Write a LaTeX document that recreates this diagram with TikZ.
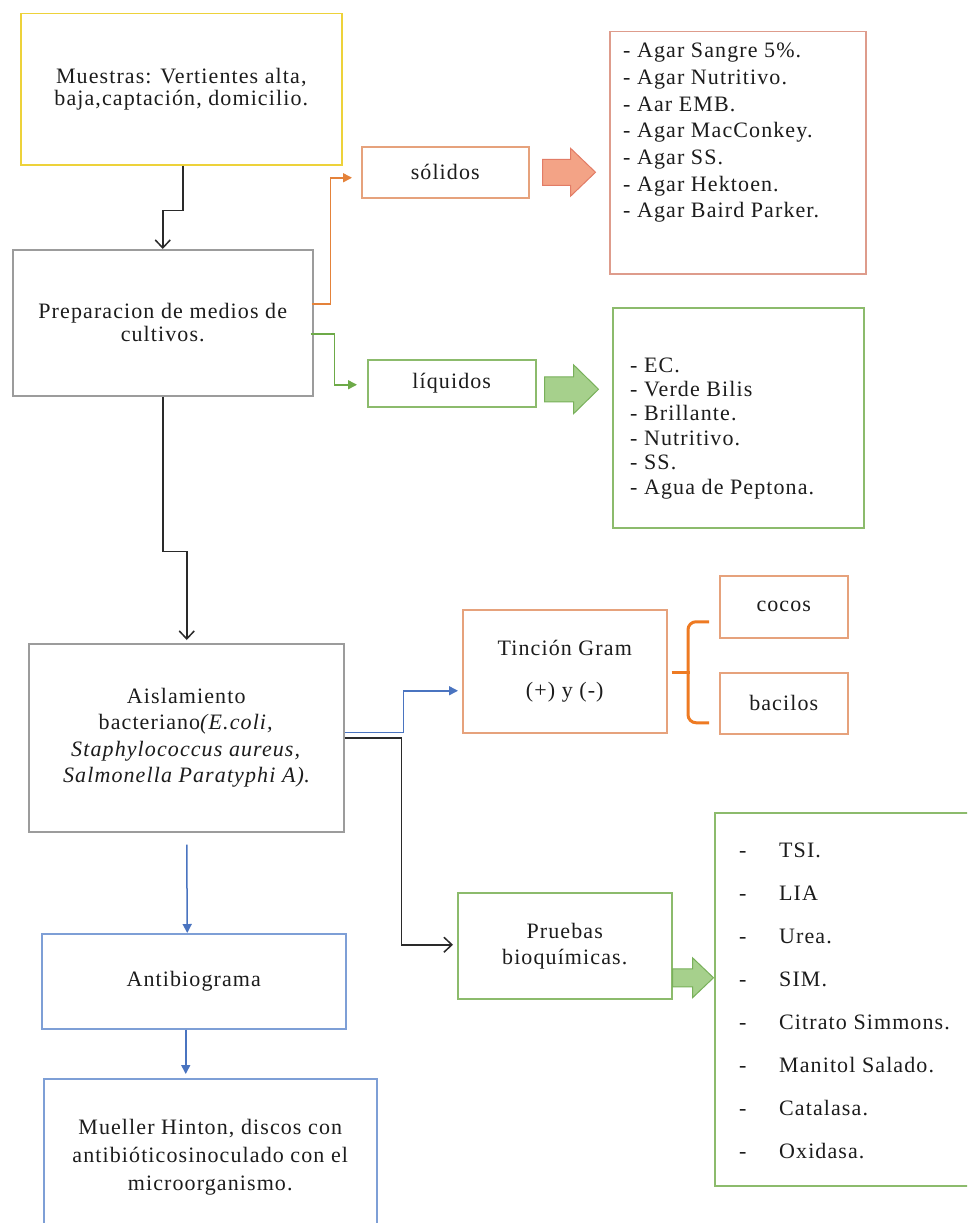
\documentclass[tikz,border=0pt]{standalone}
\usepackage{fontspec}
\setmainfont{Liberation Serif}[LetterSpace=5]
\usetikzlibrary{arrows.meta,calc}

\definecolor{ink}{HTML}{1C1C1C}
\definecolor{yelbox}{HTML}{EDD23A}
\definecolor{graybox}{HTML}{9C9C9C}
\definecolor{orline}{HTML}{E4823A}
\definecolor{orbox}{HTML}{E6A27C}
\definecolor{salbox}{HTML}{DE9C8C}
\definecolor{orfill}{HTML}{F3A386}
\definecolor{oredge}{HTML}{E27C66}
\definecolor{grbox}{HTML}{8CBB6C}
\definecolor{grline}{HTML}{6DAA48}
\definecolor{grfill}{HTML}{A6D08C}
\definecolor{gredge}{HTML}{78B05A}
\definecolor{blline}{HTML}{4A74C0}
\definecolor{blbox}{HTML}{7E9FD6}
\definecolor{bracecol}{HTML}{EE7A22}
\definecolor{blk}{HTML}{2A2A2A}

\begin{document}
\begin{tikzpicture}[x=1pt,y=-1pt,
  every node/.style={font=\fontsize{22}{26}\selectfont, text=ink},
  box/.style={draw, line width=1.5pt, anchor=north west, inner sep=0pt, align=center},
  item/.style={inner sep=0pt, anchor=base west},
  blkarrow/.style={draw=blk, line width=1.5pt, -{Straight Barb[length=8pt,width=15pt,line width=1.5pt]}},
  oarrow/.style={draw=orline, line width=1.5pt, -{Triangle[length=9pt,width=9pt]}},
  garrow/.style={draw=grline, line width=1.5pt, -{Triangle[length=9pt,width=9pt]}},
  barrow/.style={draw=blline, line width=1.5pt, -{Triangle[length=9pt,width=9pt]}},
  bracestyle/.style={draw=bracecol, line width=3pt},
  oblock/.style={draw=oredge, fill=orfill, line width=1pt, line join=miter},
  gblock/.style={draw=gredge, fill=grfill, line width=1pt, line join=miter}
]
\fill[white] (0,0) rectangle (967,1223);
\useasboundingbox (0,0) rectangle (967,1223);
\clip (0,0) rectangle (967,1223);

% ---- main column ----
\node[box, draw=yelbox, minimum width=321pt, minimum height=151pt,
      font=\fontsize{22}{22.5}\selectfont] (mue) at (20,13)
  {Muestras: Vertientes alta,\\baja,captación, domicilio.};
\node[box, draw=graybox, minimum width=300pt, minimum height=146pt,
      font=\fontsize{22}{23}\selectfont] (prep) at (12,249)
  {Preparacion de medios de\\cultivos.};
\node[box, draw=graybox, minimum width=315pt, minimum height=188pt,
      font=\fontsize{22}{26.5}\selectfont] (ais) at (28,643)
  {Aislamiento\\bacteriano\textit{(E.coli,}\\\textit{Staphylococcus aureus,}\\\textit{Salmonella Paratyphi A)}.};
\node[box, draw=blbox, minimum width=304pt, minimum height=95pt] (anti) at (41,933)
  {Antibiograma};
\node[box, draw=blbox, minimum width=333pt, minimum height=156pt,
      font=\fontsize{22}{28}\selectfont] (mh) at (43,1078)
  {Mueller Hinton, discos con\\antibióticosinoculado con el\\microorganismo.};

% ---- culture media ----
\node[box, draw=orbox, minimum width=167pt, minimum height=51pt] (sol) at (361,146) {sólidos};
\node[box, draw=salbox, minimum width=256pt, minimum height=242pt] (agar) at (609,31) {};
\foreach \t [count=\i from 0] in {{- Agar Sangre 5\%.},{- Agar Nutritivo.},{- Aar EMB.},
    {- Agar MacConkey.},{- Agar SS.},{- Agar Hektoen.},{- Agar Baird Parker.}}
  \node[item] (agar\i) at (623,{58+26.6*\i}) {\t};

\node[box, draw=grbox, minimum width=168pt, minimum height=47pt] (liq) at (367,359) {líquidos};
\node[box, draw=grbox, minimum width=251pt, minimum height=220pt] (liqlist) at (612,307) {};
\foreach \t [count=\i from 0] in {{- EC.},{- Verde Bilis},{- Brillante.},{- Nutritivo.},
    {- SS.},{- Agua de Peptona.}}
  \node[item] (liq\i) at (630,{372+24.4*\i}) {\t};

% ---- identification ----
\node[box, draw=orbox, minimum width=204pt, minimum height=123pt] (tin) at (462,609)
  {Tinción Gram\\[16pt](+) y (-)};
\node[box, draw=orbox, minimum width=128pt, minimum height=62pt] (cocos) at (719,575) {cocos};
\node[box, draw=orbox, minimum width=128pt, minimum height=61pt] (bac) at (719,672) {bacilos};

\node[box, draw=grbox, minimum width=214pt, minimum height=106pt] (pru) at (457,892)
  {Pruebas\\bioquímicas.};
\node[box, draw=grbox, minimum width=280pt, minimum height=373pt] (prulist) at (714,812) {};
\foreach \t [count=\i from 0] in {TSI.,LIA,Urea.,SIM.,Citrato Simmons.,Manitol Salado.,
    Catalasa.,Oxidasa.}{
  \node[item] (prud\i) at (739,{857+43*\i}) {-};
  \node[item] (prut\i) at (779,{857+43*\i}) {\t};
}

% ---- connectors ----
\draw[blkarrow] ($(mue.south)+(1.5,0)$) -- ++(0,45) -| (prep.north);
\draw[blkarrow] (prep.south) -- ++(0,155) -| ($(ais.north)+(0.5,-3)$);

\draw[oarrow] ($(prep.east)+(-2,-19)$) -- ++(19,0) |- ($(sol.west)+(-9,5.5)$);
\draw[garrow] ($(prep.east)+(-3,11)$) -- ++(24,0) |- ($(liq.west)+(-10,1.5)$);

\coordinate (oa) at ($(sol.east)+(13,0)$);
\draw[oblock] (oa) ++(0,-13) -- ++(28,0) -- ++(0,-11) -- ++(25,24) -- ++(-25,24)
  -- ++(0,-11) -- ++(-28,0) -- cycle;
\coordinate (ga) at ($(liq.east)+(8,6)$);
\draw[gblock] (ga) ++(0,-12.5) -- ++(29,0) -- ++(0,-12) -- ++(25,24.5) -- ++(-25,24.5)
  -- ++(0,-12) -- ++(-29,0) -- cycle;
\coordinate (sa) at ($(pru.east)+(0,32)$);
\draw[gblock] (sa) ++(0,-9) -- ++(20,0) -- ++(0,-11) -- ++(21,20) -- ++(-21,20)
  -- ++(0,-11) -- ++(-20,0) -- cycle;

\draw[barrow] ($(ais.east)+(0,-5.5)$) -- ++(59,0) |- ($(tin.west)+(-4,19.5)$);
\draw[blkarrow] (ais.east) -- ++(57,0) |- ($(pru.west)+(-4,-1)$);

\draw[barrow] ($(ais.south)+(0.5,12)$) -- ($(anti.north)+(-6.5,0)$);
\draw[barrow] ($(anti.south)+(-8,0)$) -- ($(mh.north)+(-24.5,-4)$);

% brace joining the Gram stain to its two outcomes
\coordinate (bt) at ($(cocos.west)+(-10,15)$);
\coordinate (bb) at ($(bac.west)+(-10,19.5)$);
\coordinate (bm) at ($(tin.east)+(4,1.5)$);
\draw[bracestyle, rounded corners=8pt] (bt) -- ($(bt)+(-21,0)$) -- ($(bb)+(-21,0)$) -- (bb);
\draw[bracestyle] (bm) -- ($(bm)+(18,0)$);
\end{tikzpicture}
\end{document}
